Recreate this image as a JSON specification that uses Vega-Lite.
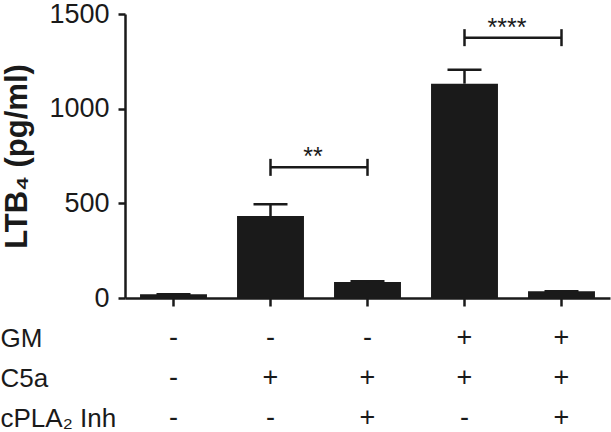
{
  "$schema": "https://vega.github.io/schema/vega-lite/v6.json",
  "padding": {"left": 0, "top": 0, "right": 1, "bottom": 0},
  "spacing": 7,
  "config": {
    "font": "Liberation Sans",
    "view": {"stroke": null},
    "axis": {"domainColor": "#1a1a1a", "tickColor": "#1a1a1a", "labelColor": "#1a1a1a", "titleColor": "#1a1a1a", "grid": false}
  },
  "datasets": {
    "bars": [
      {"g": "1", "v": 20, "err": 20},
      {"g": "2", "v": 433, "err": 495},
      {"g": "3", "v": 84, "err": 89},
      {"g": "4", "v": 1132, "err": 1205},
      {"g": "5", "v": 36, "err": 36}
    ],
    "brackets": [
      {"g1": "2", "g2": "3", "y": 690, "label": "**"},
      {"g1": "4", "g2": "5", "y": 1375, "label": "****"}
    ],
    "bracketEnds": [
      {"g": "2", "y": 690},
      {"g": "3", "y": 690},
      {"g": "4", "y": 1375},
      {"g": "5", "y": 1375}
    ],
    "signs": [
      {"g": "1", "row": "GM", "s": "-"},
      {"g": "2", "row": "GM", "s": "-"},
      {"g": "3", "row": "GM", "s": "-"},
      {"g": "4", "row": "GM", "s": "+"},
      {"g": "5", "row": "GM", "s": "+"},
      {"g": "1", "row": "C5a", "s": "-"},
      {"g": "2", "row": "C5a", "s": "+"},
      {"g": "3", "row": "C5a", "s": "+"},
      {"g": "4", "row": "C5a", "s": "+"},
      {"g": "5", "row": "C5a", "s": "+"},
      {"g": "1", "row": "cPLA₂ Inh", "s": "-"},
      {"g": "2", "row": "cPLA₂ Inh", "s": "-"},
      {"g": "3", "row": "cPLA₂ Inh", "s": "+"},
      {"g": "4", "row": "cPLA₂ Inh", "s": "-"},
      {"g": "5", "row": "cPLA₂ Inh", "s": "+"}
    ]
  },
  "vconcat": [
    {
      "width": 485,
      "height": 284,
      "encoding": {
        "x": {
          "field": "g", "type": "nominal",
          "scale": {"domain": ["1", "2", "3", "4", "5"], "paddingInner": 0.31, "paddingOuter": 0.155},
          "axis": {"labels": false, "title": null, "domainWidth": 2.5, "tickWidth": 2.5, "tickSize": 8}
        }
      },
      "layer": [
        {
          "data": {"name": "bars"},
          "mark": {"type": "bar", "color": "#1a1a1a"},
          "encoding": {
            "y": {
              "field": "v", "type": "quantitative",
              "scale": {"domain": [0, 1500], "nice": false},
              "axis": {
                "values": [0, 500, 1000, 1500],
                "format": "d",
                "title": "LTB₄ (pg/ml)",
                "titleFontSize": 31, "titleFontWeight": "bold", "titlePadding": 15,
                "labelFontSize": 27, "labelPadding": 9, "tickSize": 7,
                "domainWidth": 2.5, "tickWidth": 2.5
              }
            }
          }
        },
        {
          "data": {"name": "bars"},
          "mark": {"type": "rule", "color": "#1a1a1a", "strokeWidth": 2.5},
          "encoding": {
            "y": {"field": "v", "type": "quantitative"},
            "y2": {"field": "err"}
          }
        },
        {
          "data": {"name": "bars"},
          "mark": {"type": "tick", "orient": "horizontal", "color": "#1a1a1a", "size": 34, "thickness": 2.5, "opacity": 1},
          "encoding": {
            "y": {"field": "err", "type": "quantitative"}
          }
        },
        {
          "data": {"name": "brackets"},
          "mark": {"type": "rule", "color": "#1a1a1a", "strokeWidth": 2.5},
          "encoding": {
            "x": {"field": "g1", "type": "nominal"},
            "x2": {"field": "g2"},
            "y": {"field": "y", "type": "quantitative"}
          }
        },
        {
          "data": {"name": "bracketEnds"},
          "mark": {"type": "tick", "orient": "vertical", "color": "#1a1a1a", "size": 17, "thickness": 2.5, "opacity": 1},
          "encoding": {
            "y": {"field": "y", "type": "quantitative"}
          }
        },
        {
          "data": {"name": "brackets"},
          "mark": {"type": "text", "fontSize": 25, "baseline": "alphabetic", "dy": -2, "dx": -6, "color": "#1a1a1a"},
          "encoding": {
            "x": {"field": "g1", "type": "nominal", "bandPosition": 1.224},
            "y": {"field": "y", "type": "quantitative"},
            "text": {"field": "label"}
          }
        }
      ]
    },
    {
      "width": 485,
      "height": 120,
      "data": {"name": "signs"},
      "mark": {"type": "text", "fontSize": 27, "color": "#1a1a1a"},
      "encoding": {
        "x": {
          "field": "g", "type": "nominal",
          "scale": {"domain": ["1", "2", "3", "4", "5"], "paddingInner": 0.31, "paddingOuter": 0.155},
          "axis": null
        },
        "y": {
          "field": "row", "type": "nominal",
          "sort": ["GM", "C5a", "cPLA₂ Inh"],
          "scale": {"paddingInner": 0, "paddingOuter": 0},
          "axis": {"title": null, "domain": false, "ticks": false, "tickSize": 0, "labelAlign": "left", "labelPadding": 125, "labelFontSize": 26}
        },
        "text": {"field": "s"}
      }
    }
  ]
}
